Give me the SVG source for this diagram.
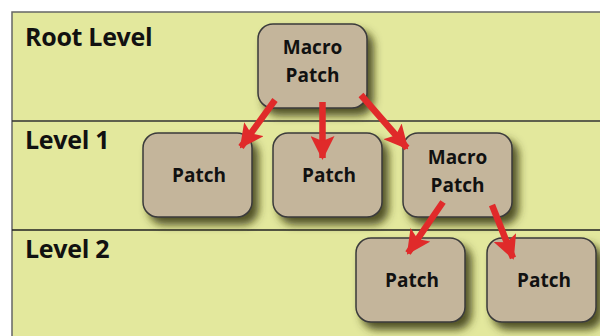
<svg xmlns="http://www.w3.org/2000/svg" width="600" height="336" viewBox="0 0 600 336">
<style>
.lvl{font-family:"Open Sans","Liberation Sans",sans-serif;font-weight:bold;font-size:25px;fill:#111;letter-spacing:-0.3px}
.box{fill:#c4b59b;stroke:#3a3a3a;stroke-width:1.5}
.lbl{font-family:"Open Sans","Liberation Sans",sans-serif;font-weight:bold;font-size:19px;fill:#111;text-anchor:middle}
.arr{stroke:#e02a2a;stroke-width:6.5;fill:none;marker-end:url(#ah)}
</style>
<defs>
<filter id="sh" x="-20%" y="-20%" width="150%" height="150%">
<feDropShadow dx="6" dy="7" stdDeviation="4.5" flood-color="#34340f" flood-opacity="0.85"/>
</filter>
<marker id="ah" markerUnits="userSpaceOnUse" markerWidth="24" markerHeight="24" viewBox="0 0 24 24" refX="22" refY="12" orient="auto">
<path d="M0,0 L24,12 L0,24 L5,12 Z" fill="#e02a2a"/>
</marker>
</defs>
<rect x="0" y="0" width="600" height="336" fill="#ffffff"/>
<rect x="12" y="12" width="600" height="340" fill="#e3e89d" stroke="#666" stroke-width="1.5"/>
<line x1="12" y1="121" x2="600" y2="121" stroke="#333" stroke-width="1.5"/>
<line x1="12" y1="230" x2="600" y2="230" stroke="#222" stroke-width="1.5"/>
<text class="lvl" x="25" y="46">Root Level</text>
<text class="lvl" x="25" y="149">Level 1</text>
<text class="lvl" x="25" y="258">Level 2</text>
<g id="root-macro"><rect class="box" x="258" y="24" width="109" height="84" rx="15" filter="url(#sh)"/><text class="lbl" x="312.5" y="54">Macro</text><text class="lbl" x="312.5" y="82">Patch</text></g>
<g id="l1-patch1"><rect class="box" x="143" y="133" width="109" height="84" rx="15" filter="url(#sh)"/><text class="lbl" x="199" y="182">Patch</text></g>
<g id="l1-patch2"><rect class="box" x="273" y="133" width="109" height="84" rx="15" filter="url(#sh)"/><text class="lbl" x="329" y="182">Patch</text></g>
<g id="l1-macro"><rect class="box" x="403" y="133" width="109" height="84" rx="15" filter="url(#sh)"/><text class="lbl" x="457.5" y="164">Macro</text><text class="lbl" x="457.5" y="192">Patch</text></g>
<g id="l2-patch1"><rect class="box" x="356" y="238" width="109" height="84" rx="15" filter="url(#sh)"/><text class="lbl" x="412" y="287">Patch</text></g>
<g id="l2-patch2"><rect class="box" x="487" y="238" width="109" height="84" rx="15" filter="url(#sh)"/><text class="lbl" x="544" y="287">Patch</text></g>
<g id="connectors">
<line class="arr" x1="275" y1="100" x2="241" y2="147"/>
<line class="arr" x1="322.5" y1="102" x2="322.5" y2="158"/>
<line class="arr" x1="361" y1="95" x2="407" y2="148"/>
<line class="arr" x1="443" y1="202" x2="408" y2="253"/>
<line class="arr" x1="492" y1="205" x2="513" y2="258"/>
</g>
</svg>
